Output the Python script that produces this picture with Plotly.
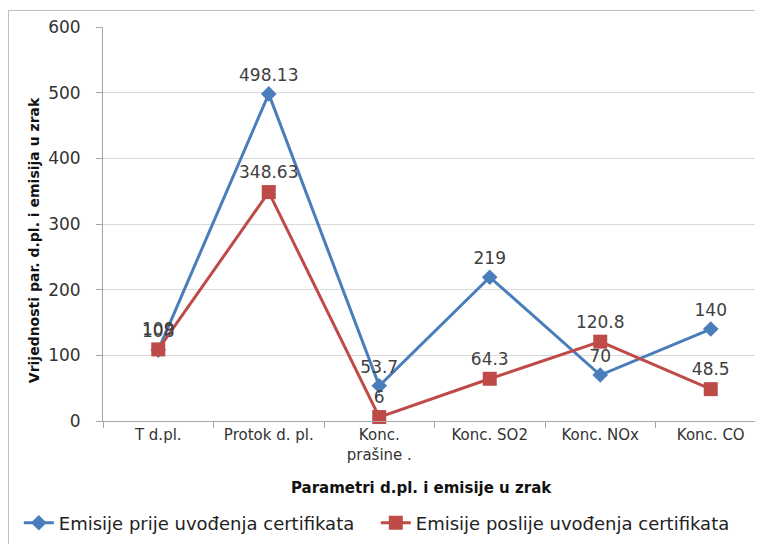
import plotly.graph_objects as go

categories = ["T d.pl.", "Protok d. pl.", "Konc.<br>prašine .", "Konc. SO2", "Konc. NOx", "Konc. CO"]
before_vals = [108, 498.13, 53.7, 219, 70, 140]
after_vals = [109, 348.63, 6, 64.3, 120.8, 48.5]
before_name = "Emisije prije uvođenja certifikata"
after_name = "Emisije poslije uvođenja certifikata"
y_ticks = [0, 100, 200, 300, 400, 500, 600]
x_title = "Parametri d.pl. i emisije u zrak"
y_title = "Vrijednosti par. d.pl. i emisija u zrak"

def fmt(v):
    return ("%g" % v)

FONT = "DejaVu Sans, Verdana, sans-serif"
BLUE = "#4A7EBB"
RED = "#BE4B48"

fig = go.Figure()
fig.add_trace(go.Scatter(
    x=categories, y=before_vals, name=before_name,
    mode="lines+markers+text",
    line=dict(color=BLUE, width=3),
    marker=dict(symbol="diamond", size=12, color=BLUE),
    text=[fmt(v) for v in before_vals], textposition="top center",
    textfont=dict(size=17, color="#404040", family=FONT),
    cliponaxis=False,
))
fig.add_trace(go.Scatter(
    x=categories, y=after_vals, name=after_name,
    mode="lines+markers+text",
    line=dict(color=RED, width=3),
    marker=dict(symbol="square", size=14, color=RED),
    text=[fmt(v) for v in after_vals], textposition="top center",
    textfont=dict(size=17, color="#404040", family=FONT),
    cliponaxis=False,
))

fig.update_layout(
    width=763, height=544,
    margin=dict(l=95, r=5, t=19, b=131, autoexpand=False),
    paper_bgcolor="white", plot_bgcolor="white",
    font=dict(family=FONT, size=15, color="#333333"),
    showlegend=True,
    legend=dict(orientation="h", x=-0.127, xanchor="left", y=-0.259, yanchor="middle",
                font=dict(size=18, color="#222222", family=FONT),
                itemwidth=30, entrywidth=312, tracegroupgap=0, bgcolor="rgba(0,0,0,0)"),
    shapes=[dict(type="rect", xref="paper", yref="paper",
                 x0=-0.1425, x1=1.05, y0=-0.34, y1=1.042,
                 line=dict(color="#BFBFBF", width=1), layer="below")],
    annotations=[
        dict(text="<b>" + x_title + "</b>", xref="paper", yref="paper",
             x=0.481, y=-0.171, xanchor="center", yanchor="middle", showarrow=False,
             font=dict(size=15, color="#111111", family=FONT)),
        dict(text="<b>" + y_title + "</b>", xref="paper", yref="paper",
             x=-0.104, y=0.459, xanchor="center", yanchor="middle", showarrow=False,
             textangle=-90, font=dict(size=14, color="#111111", family=FONT)),
    ],
)
fig.update_xaxes(
    type="category", tickson="boundaries", ticks="outside", ticklen=6, tickcolor="#A6A6A6",
    showline=True, linecolor="#A6A6A6", linewidth=1, showgrid=False,
    tickfont=dict(size=15, color="#333333", family=FONT),
    range=[-0.5, 5.5],
)
fig.update_yaxes(
    range=[0, 600], tickvals=y_ticks, ticks="outside", ticklen=6, tickcolor="#A6A6A6",
    showline=True, linecolor="#A6A6A6", linewidth=1,
    showgrid=True, gridcolor="#D9D9D9", gridwidth=1, zeroline=False,
    tickfont=dict(size=17, color="#333333", family=FONT), ticklabelstandoff=12,
)
fig.write_html("out.html")
